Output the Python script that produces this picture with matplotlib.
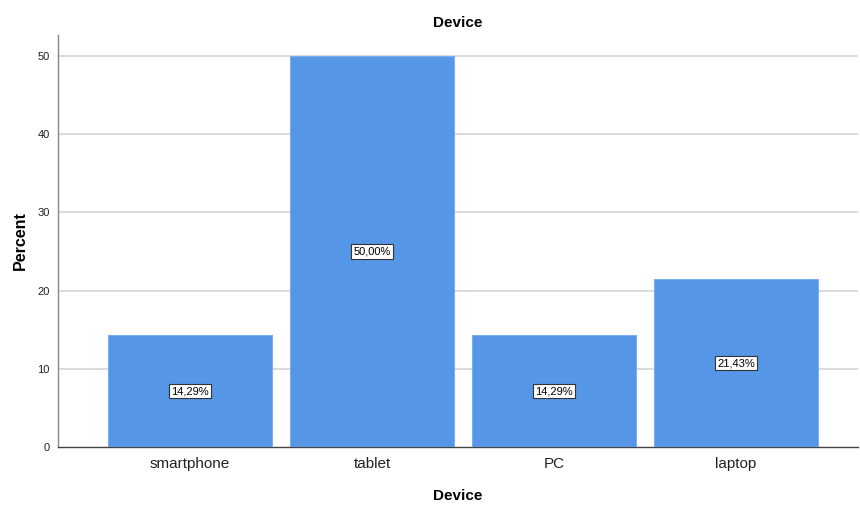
import matplotlib
matplotlib.use("Agg")
import matplotlib.pyplot as plt

categories = ["smartphone", "tablet", "PC", "laptop"]
percents = [14.29, 50.00, 14.29, 21.43]
labels = ["14,29%", "50,00%", "14,29%", "21,43%"]
yticks = [0, 10, 20, 30, 40, 50]

plt.rcParams['font.family'] = ['Liberation Sans', 'DejaVu Sans']
fig = plt.figure(figsize=(8.6, 5.05), dpi=100)
ax = fig.add_axes([0.0674, 0.1149, 0.9303, 0.8158])

x = list(range(len(categories)))
ax.bar(x, percents, width=0.9, color='#5596e6', edgecolor='#7aaef0', linewidth=0.8, zorder=3)
for xi, v, lab in zip(x, percents, labels):
    ax.text(xi, v / 2, lab, ha='center', va='center', fontsize=8, zorder=4,
            bbox=dict(boxstyle='square,pad=0.2', facecolor='white', edgecolor='#333333', linewidth=0.8))

ax.set_xlim(-0.725, 3.67)
ax.set_ylim(0, 52.7)
ax.set_yticks(yticks)
ax.set_xticks(x)
ax.set_xticklabels(categories, fontsize=11, color='#222222')
ax.tick_params(axis='y', labelsize=8, length=0, pad=6, colors='#222222')
ax.tick_params(axis='x', length=0, pad=7)
for t in yticks[1:]:
    ax.axhline(t, color='#d4d4d4', linewidth=1.2, zorder=1)

for s in ['top', 'right']:
    ax.spines[s].set_visible(False)
ax.spines['left'].set_color('#888888')
ax.spines['left'].set_linewidth(1.0)
ax.spines['bottom'].set_color('#444444')
ax.spines['bottom'].set_linewidth(1.0)

ax.set_title("Device", fontsize=11, fontweight='bold', pad=6)
ax.set_xlabel("Device", fontsize=11, fontweight='bold', labelpad=13)
ax.set_ylabel("Percent", fontsize=11.5, fontweight='bold', labelpad=7)

fig.savefig("out.png", dpi=100)
